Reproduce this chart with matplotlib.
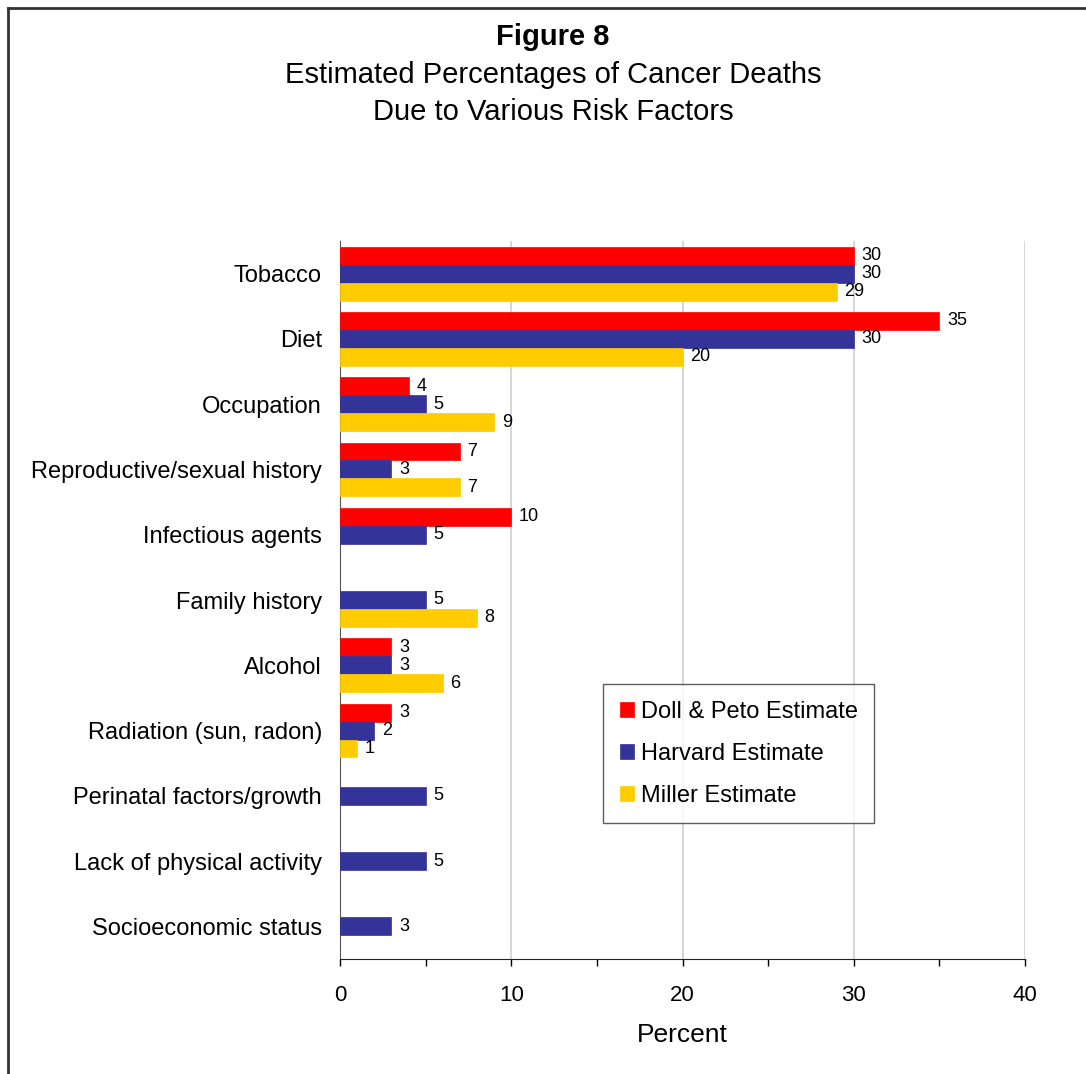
import numpy as np
import matplotlib.pyplot as plt
from matplotlib.lines import Line2D
from matplotlib.ticker import MultipleLocator

plt.rcParams['font.family'] = ['Liberation Sans', 'DejaVu Sans']

categories = ['Tobacco', 'Diet', 'Occupation', 'Reproductive/sexual history',
              'Infectious agents', 'Family history', 'Alcohol',
              'Radiation (sun, radon)', 'Perinatal factors/growth',
              'Lack of physical activity', 'Socioeconomic status']
# None = no estimate for that factor
doll_peto = [30, 35, 4, 7, 10, None, 3, 3, None, None, None]
harvard = [30, 30, 5, 3, 5, 5, 3, 2, 5, 5, 3]
miller = [29, 20, 9, 7, None, 8, 6, 1, None, None, None]

series = [('Doll & Peto Estimate', doll_peto, '#FF0000'),
          ('Harvard Estimate', harvard, '#333399'),
          ('Miller Estimate', miller, '#FFCC00')]

W, H = 1086, 1074
fig = plt.figure(figsize=(W / 100, H / 100), dpi=100)
ax = fig.add_axes([340 / W, 115 / H, 685 / W, 718 / H])

y = np.arange(len(categories))
bh = 0.275
for i, (name, vals, col) in enumerate(series):
    pos = [p + (i - 1) * bh for p, v in zip(y, vals) if v is not None]
    v = [v for v in vals if v is not None]
    ax.barh(pos, v, height=bh, color=col, label=name,
            edgecolor=col, linewidth=0.5, zorder=3)
    for p, val in zip(pos, v):
        ax.text(val + 0.45, p, str(val), va='center', ha='left',
                fontsize=13, zorder=4)

ax.set_ylim(len(categories) - 0.5, -0.5)
ax.set_xlim(0, 40)
ax.set_yticks(y)
ax.set_yticklabels(categories, fontsize=17)
ax.tick_params(axis='y', length=0, pad=13)
ax.xaxis.set_major_locator(MultipleLocator(10))
ax.xaxis.set_minor_locator(MultipleLocator(5))
ax.tick_params(axis='x', which='both', direction='out', length=5,
               width=1, labelsize=16, pad=14)
ax.grid(axis='x', which='major', color='#d0d0d0', linewidth=1.2, zorder=0)
for s in ['top', 'right']:
    ax.spines[s].set_visible(False)
ax.spines['left'].set_color('#555555')
ax.spines['bottom'].set_color('#222222')
ax.set_xlabel('Percent', fontsize=19, labelpad=12)

leg = ax.legend(loc='upper left', bbox_to_anchor=(263 / 685, (959 - 684) / 718),
                fontsize=17, frameon=True, fancybox=False, handlelength=0.6,
                handleheight=0.6, handletextpad=0.3, labelspacing=0.85,
                borderpad=0.7, borderaxespad=0)
leg.get_frame().set_edgecolor('#333333')
leg.get_frame().set_linewidth(1.0)

fig.text(553 / W, 1 - 37 / H, 'Figure 8', ha='center', va='center',
         fontsize=21, fontweight='bold')
fig.text(553 / W, 1 - 75 / H, 'Estimated Percentages of Cancer Deaths',
         ha='center', va='center', fontsize=21)
fig.text(553 / W, 1 - 112 / H, 'Due to Various Risk Factors',
         ha='center', va='center', fontsize=21)

# outer frame (top and left edges visible)
fig.add_artist(Line2D([7.5 / W, 1.0], [1 - 7.5 / H, 1 - 7.5 / H],
                      transform=fig.transFigure, color='#333333', linewidth=2))
fig.add_artist(Line2D([7.5 / W, 7.5 / W], [0, 1 - 7.5 / H],
                      transform=fig.transFigure, color='#333333', linewidth=2))

fig.savefig('out.png', dpi=100)
